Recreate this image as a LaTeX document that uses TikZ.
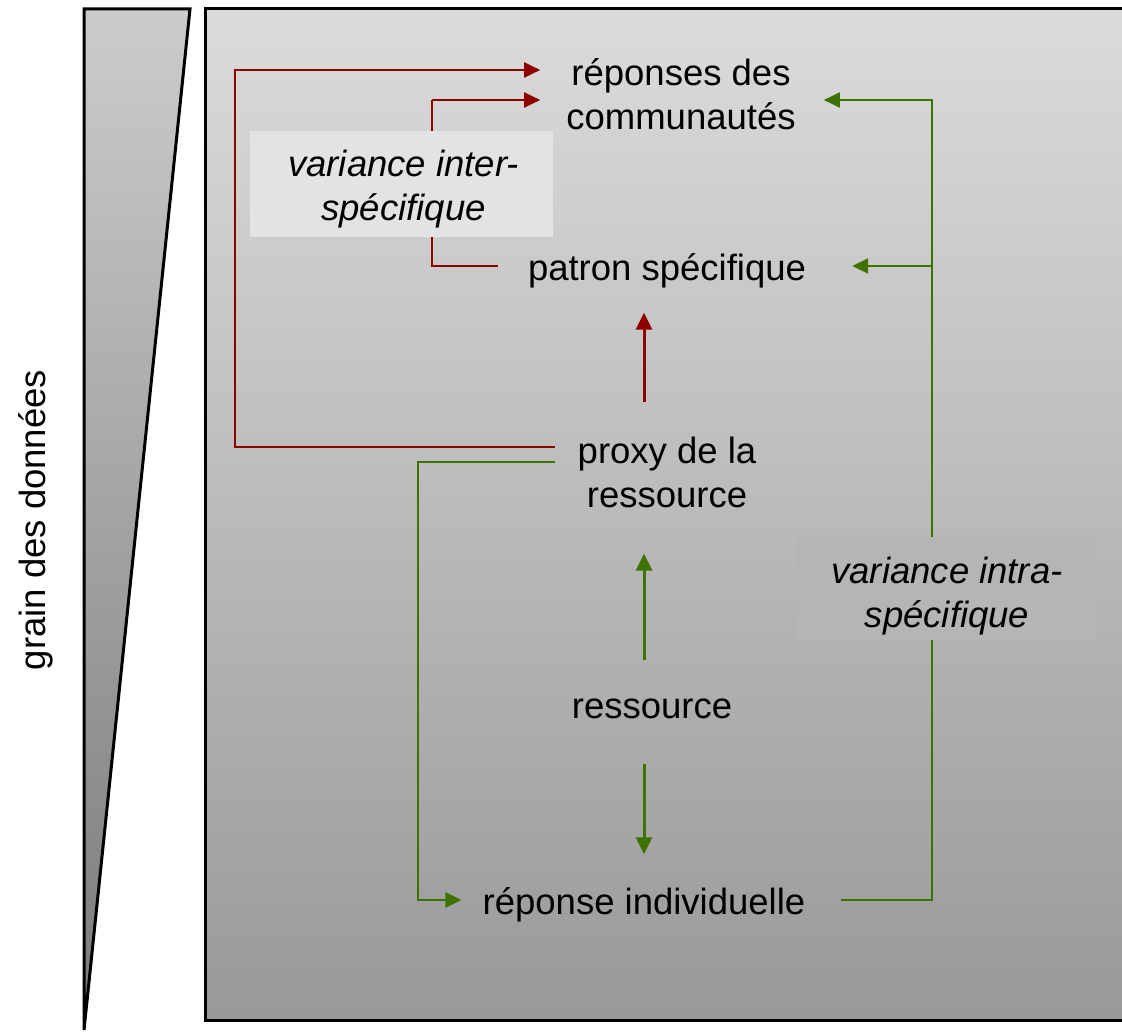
\documentclass[tikz,border=0pt]{standalone}
\usepackage{fontspec}
\setmainfont{Liberation Sans}
\usetikzlibrary{arrows.meta, calc}

\definecolor{redline}{HTML}{8E0000}
\definecolor{greenline}{HTML}{3F7200}

\begin{document}
\begin{tikzpicture}[
    x=1pt, y=-1pt,
    every node/.style={font=\fontsize{36.5}{44}\selectfont, inner sep=0pt},
    level/.style={align=center},
    oneline/.style={text height=27pt, text depth=8pt},
    varbox/.style={rectangle, minimum width=303pt, minimum height=106pt},
    vartext/.style={align=center, font=\fontsize{36.5}{44}\selectfont\itshape},
    arrow/.style={-{Triangle[length=16pt, width=15pt]}, line width=2pt},
    bigarrow/.style={-{Triangle[length=17pt, width=16pt]}, line width=3pt},
    link/.style={line width=2pt}
]
\useasboundingbox (0,0) rectangle (1122,1033);

% ============ BACKGROUND ============
% Grain wedge
\shade[top color=black!20, bottom color=black!52] (84,9) -- (190,9) -- (84,1030) -- cycle;
\draw[line width=3pt, line join=miter] (84,1030) -- (84,9) -- (190,9) -- (84,1030);
\node[rotate=90] (grain) at (36,520) {grain des données};

% Main panel
\shade[top color=black!14, bottom color=black!40] (205,9) rectangle (1126,1020);
\draw[line width=3pt] (205,9) rectangle (1126,1020);

% ============ LEVELS ============
\node[level] (comm) at (681,94) {réponses des\\communautés};
\node[oneline] (patron) at (667,271) {patron spécifique};
\node[level] (proxy) at (667,472) {proxy de la\\ressource};
\node[oneline] (res) at (652,709) {ressource};
\node[oneline] (indiv) at (644,905) {réponse individuelle};

% ============ RAILS ============
\coordinate (redrail) at (235,0);
\coordinate (interrail) at (432,0);
\coordinate (greenrail) at (418,0);
\coordinate (intrarail) at (932,0);

% ============ ARROWS AND CONNECTIONS ============
% Proxy to communities (red)
\coordinate (proxyout) at ($(proxy.west)+(-23,-25)$);
\coordinate (commin) at ($(comm.west)+(-26,-24)$);
\draw[arrow, redline] (proxyout) -- (proxyout -| redrail) |- (commin);

% Specific pattern to communities
\coordinate (patronout) at ($(patron.west)+(-30,-5)$);
\coordinate (commin2) at ($(comm.west)+(-26,6)$);
\draw[link, redline] (patronout) -- (patronout -| interrail) -- (interrail |- commin2);
\draw[arrow, redline] (interrail |- commin2) -- (commin2);

% Proxy to specific pattern
\draw[bigarrow, redline] ($(proxy.north)+(-23,-34)$) -- ($(patron.south)+(-23,24)$);

% Proxy to individual response (green)
\coordinate (proxyout2) at ($(proxy.west)+(-23,-10)$);
\coordinate (indivin) at ($(indiv.west)+(-21,-5)$);
\draw[arrow, greenline] (proxyout2) -- (proxyout2 -| greenrail) |- (indivin);

% Resource up to proxy, down to individual
\draw[bigarrow, greenline] ($(res.north)+(-8,-31)$) -- ($(proxy.south)+(-23,46)$);
\draw[bigarrow, greenline] ($(res.south)+(-8,37)$) -- ($(indiv.north)+(0,-33)$);

% Individual response up to pattern and communities
\coordinate (indivout) at ($(indiv.east)+(35,-5)$);
\coordinate (commout) at ($(comm.east)+(28,6)$);
\coordinate (patronin) at ($(patron.east)+(46,-5)$);
\draw[arrow, greenline] (indivout) -- (indivout -| intrarail) |- (commout);
\draw[arrow, greenline] (intrarail |- patronin) -- (patronin);

% ============ VARIANCE LABELS ============
\node[varbox, fill=black!11] (inter) at (401.5,184) {};
\node[vartext] (intertext) at ($(inter.center)+(2,5)$) {variance inter-\\spécifique};

\node[varbox, fill=black!29, minimum width=300pt, minimum height=103pt] (intra) at (947,588.5) {};
\node[vartext] (intratext) at ($(intra.center)+(0,8)$) {variance intra-\\spécifique};

\end{tikzpicture}
\end{document}
